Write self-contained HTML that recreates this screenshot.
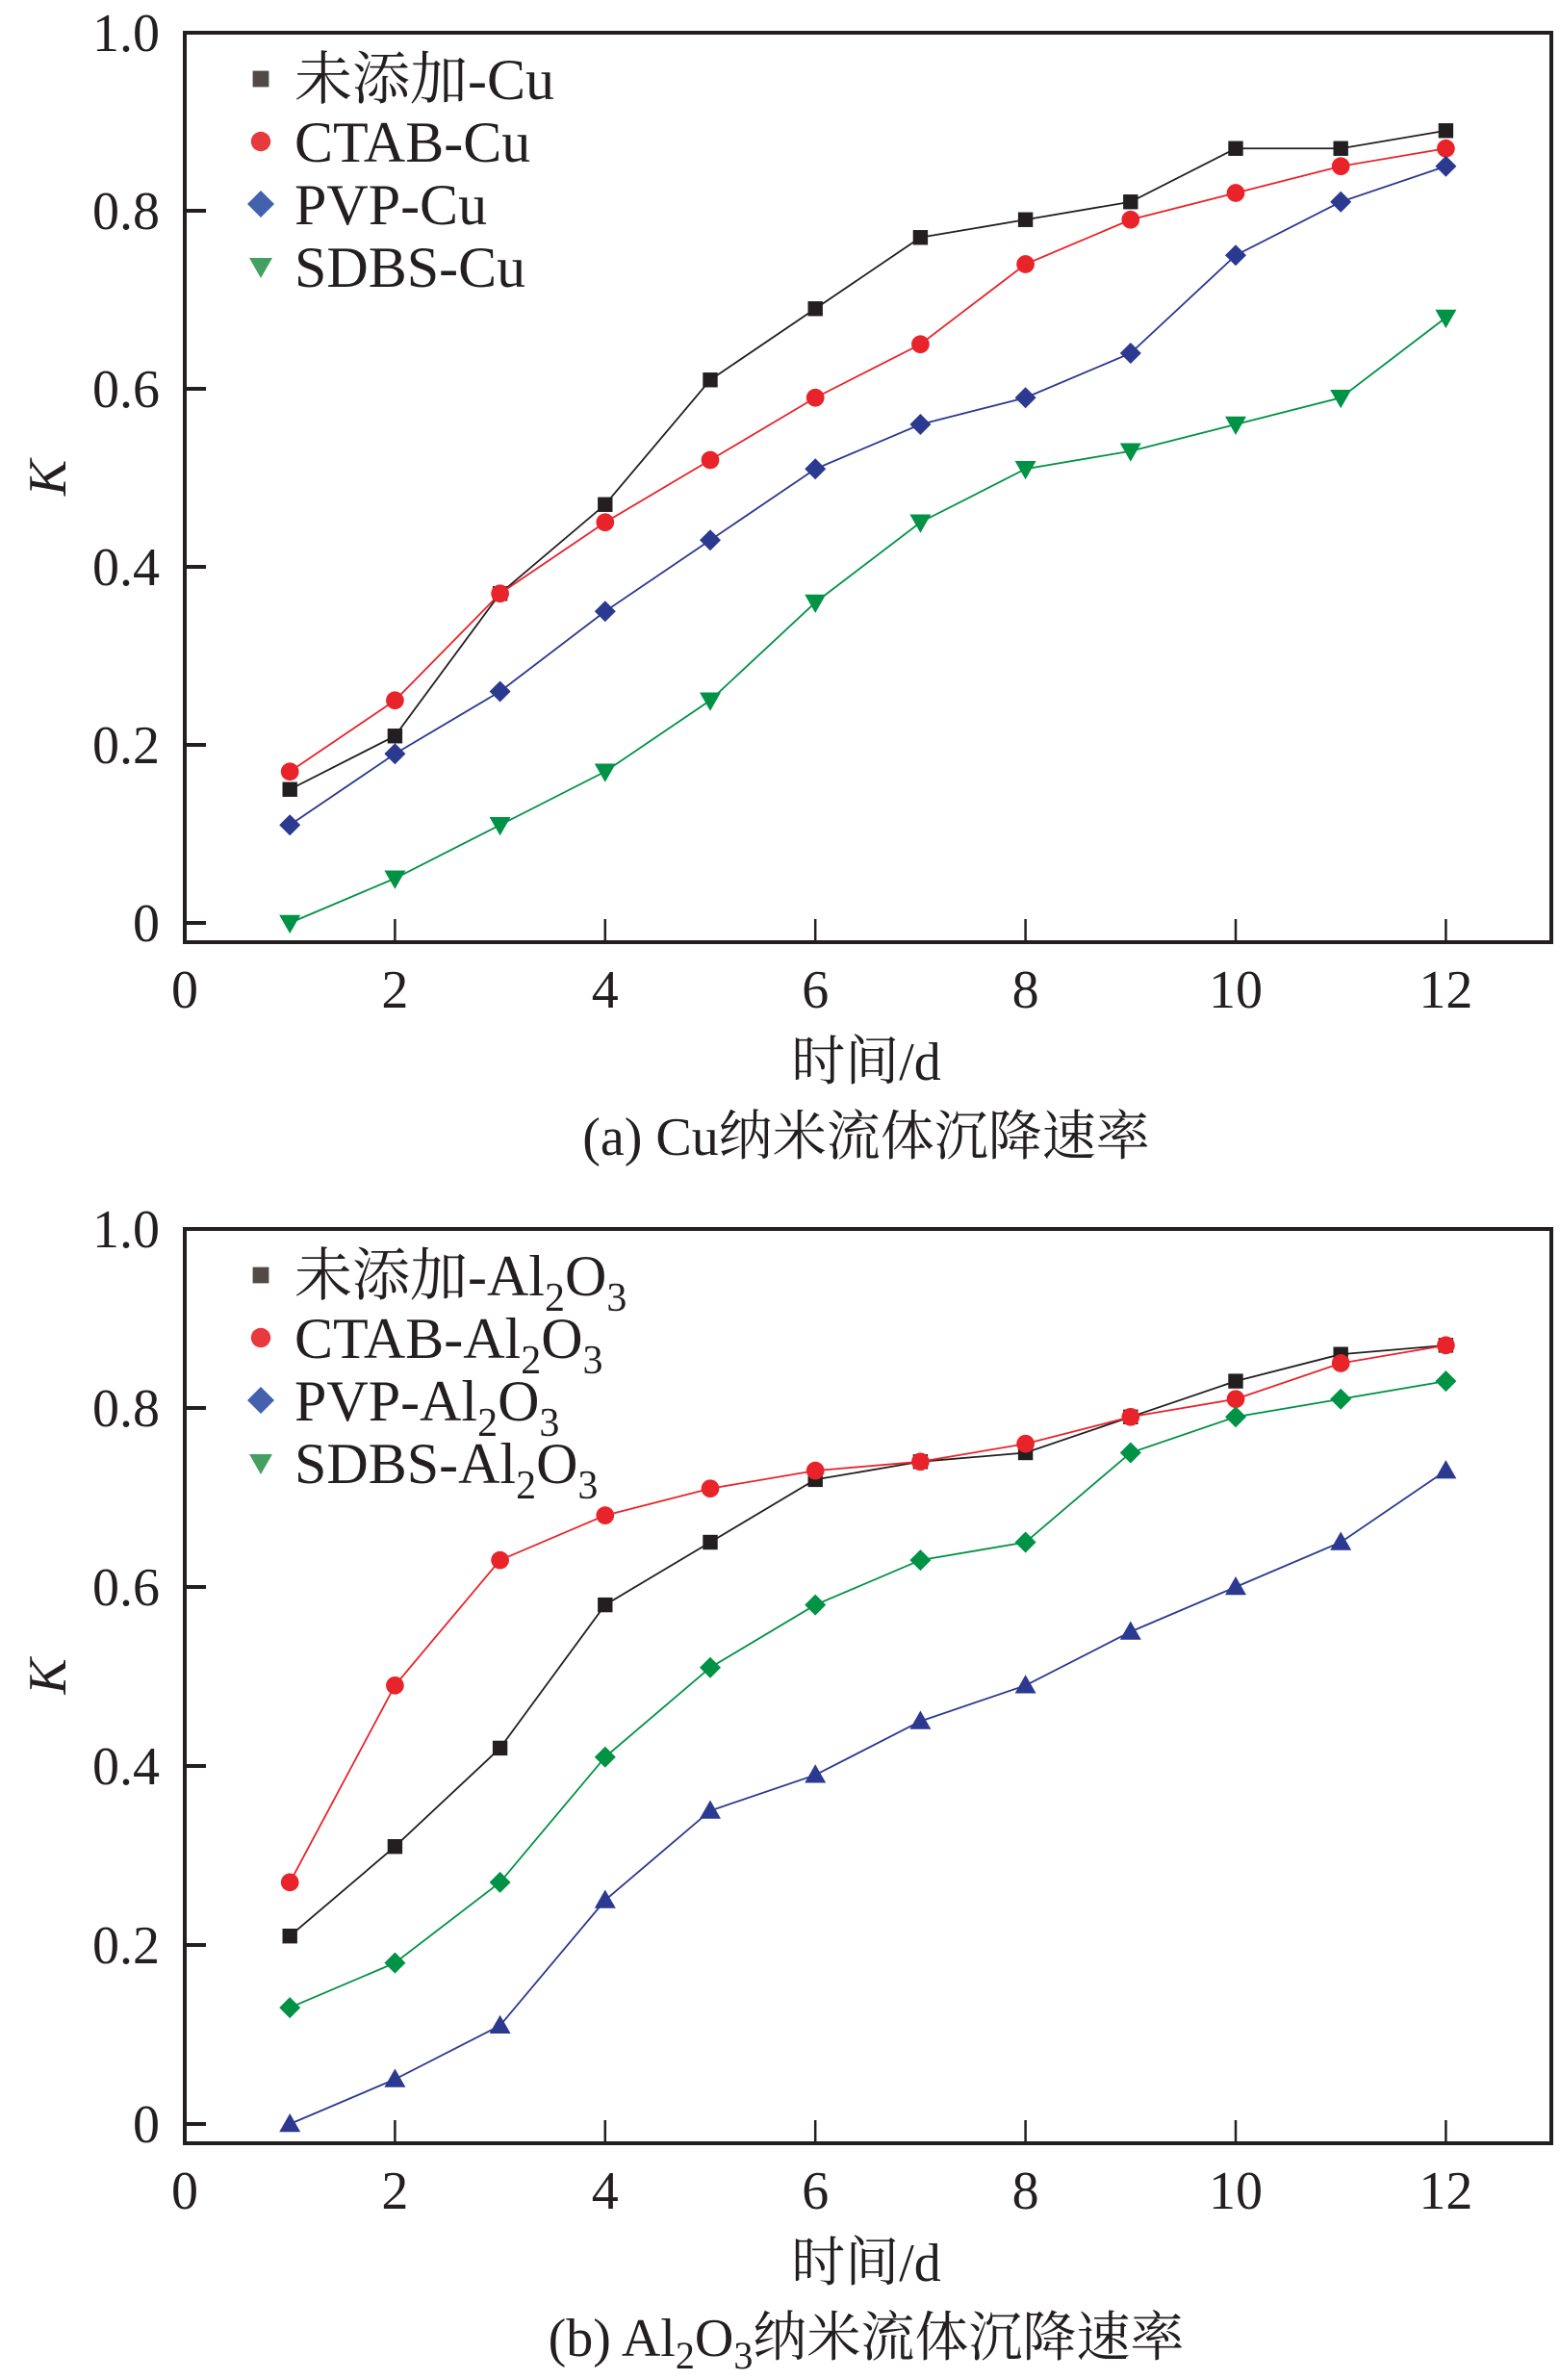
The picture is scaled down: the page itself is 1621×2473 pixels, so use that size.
<!DOCTYPE html>
<html><head><meta charset="utf-8"><style>
html,body{margin:0;padding:0;background:#fff}
svg{display:block}
text{font-family:"Liberation Serif","Noto Serif CJK SC",serif;fill:#231f20}
</style></head><body>
<svg id="fig" width="1621" height="2473" viewBox="0 0 1621 2473" xmlns="http://www.w3.org/2000/svg"></svg>
<script>
const days = [1,2,3,4,5,6,7,8,9,10,11,12];
const xTicks = [0,2,4,6,8,10,12];
const yTicks = [0,0.2,0.4,0.6,0.8,1.0];
const yTickLabels = ["0","0.2","0.4","0.6","0.8","1.0"];
const cuNone = [0.15,0.21,0.37,0.47,0.61,0.69,0.77,0.79,0.81,0.87,0.87,0.89];
const cuCTAB = [0.17,0.25,0.37,0.45,0.52,0.59,0.65,0.74,0.79,0.82,0.85,0.87];
const cuPVP  = [0.11,0.19,0.26,0.35,0.43,0.51,0.56,0.59,0.64,0.75,0.81,0.85];
const cuSDBS = [0.00,0.05,0.11,0.17,0.25,0.36,0.45,0.51,0.53,0.56,0.59,0.68];
const alNone = [0.21,0.31,0.42,0.58,0.65,0.72,0.74,0.75,0.79,0.83,0.86,0.87];
const alCTAB = [0.27,0.49,0.63,0.68,0.71,0.73,0.74,0.76,0.79,0.81,0.85,0.87];
const alPVP  = [0.00,0.05,0.11,0.25,0.35,0.39,0.45,0.49,0.55,0.60,0.65,0.73];
const alSDBS = [0.13,0.18,0.27,0.41,0.51,0.58,0.63,0.65,0.75,0.79,0.81,0.83];

const NS="http://www.w3.org/2000/svg";
const svg=document.getElementById('fig');
function mk(tag,attrs,parent){const e=document.createElementNS(NS,tag);for(const k in attrs)e.setAttribute(k,attrs[k]);(parent||svg).appendChild(e);return e;}

function marker(g,shape,cx,cy,fill,s){
  let e;
  if(shape==='sq') e=mk('rect',{x:cx-s*0.7,y:cy-s*0.7,width:s*1.4,height:s*1.4,fill:fill},g);
  else if(shape==='ci') e=mk('circle',{cx:cx,cy:cy,r:s*0.85,fill:fill},g);
  else if(shape==='di') e=mk('polygon',{points:`${cx},${cy-s} ${cx+s},${cy} ${cx},${cy+s} ${cx-s},${cy}`,fill:fill},g);
  else if(shape==='tu') e=mk('polygon',{points:`${cx},${cy-s} ${cx+s},${cy+s*0.75} ${cx-s},${cy+s*0.75}`,fill:fill},g);
  else e=mk('polygon',{points:`${cx-s},${cy-s*0.75} ${cx+s},${cy-s*0.75} ${cx},${cy+s}`,fill:fill},g);
  return e;
}

function panel(id,top,y0,series,legend,caption,sub){
  const L=192,R=1612,xPer=109.2;
  const yPer=(y0-top);
  const X=v=>L+v*xPer, Y=v=>y0-v*yPer;
  const bottom=y0+20;
  const g=mk('g',{});
  
  
  const frame=mk('rect',{x:L,y:top,width:R-L,height:bottom-top,fill:'none',stroke:'#231f20','stroke-width':4},g);
  
  
  xTicks.forEach(t=>{
    const l=mk('line',{x1:X(t),x2:X(t),y1:bottom,y2:bottom-24,stroke:'#231f20','stroke-width':2.5},g);
    
    
    const tx=mk('text',{x:X(t),y:bottom+68,'font-size':56,'text-anchor':'middle'},g);
    tx.textContent=t;
    
    
  });
  yTicks.forEach((t,i)=>{
    const l=mk('line',{x1:L,x2:L+22,y1:Y(t),y2:Y(t),stroke:'#231f20','stroke-width':4},g);
    
    
    const tx=mk('text',{x:166,y:Y(t)+19,'font-size':56,'text-anchor':'end'},g);
    tx.textContent=yTickLabels[i];
    
    
  });
  const yl=mk('text',{x:0,y:0,'font-size':56,'font-style':'italic','text-anchor':'middle',transform:`translate(68,${(top+y0)/2}) rotate(-90)`},g);
  yl.textContent='K';
  
  
  const xl=mk('text',{x:900,y:bottom+143,'font-size':56,'text-anchor':'middle'},g);
  xl.textContent='时间/d';
  
  
  const cap=mk('text',{x:900,y:bottom+221,'font-size':56,'text-anchor':'middle'},g);
  cap.innerHTML=caption;
  
  
  series.forEach(s=>{
    const pts=days.map((d,i)=>X(d)+','+Y(s.vals[i])).join(' ');
    const pl=mk('polyline',{points:pts,fill:'none',stroke:s.line,'stroke-width':1.8},g);
    
    
    days.forEach((d,i)=>{
      const m=marker(g,s.shape,X(d),Y(s.vals[i]),s.fill,11);
      
      
    });
  });
  legend.forEach((e,i)=>{
    const cy=top+48+i*65;
    const m=marker(g,e.shape,271,cy,e.fill,e.shape==='di'?14:12);
    
    
    const t=mk('text',{x:306,y:cy+21,'font-size':60},g);
    t.innerHTML=e.label+(sub?'-Al<tspan font-size="42" dy="16">2</tspan><tspan dy="-16">O</tspan><tspan font-size="42" dy="16">3</tspan>':'-Cu');
    
    
  });
}
panel('panel-cu',34,959,[
  {name:'cu-none',vals:cuNone,line:'#231f20',fill:'#231f20',shape:'sq'},
  {name:'cu-ctab',vals:cuCTAB,line:'#e8242a',fill:'#e8242a',shape:'ci'},
  {name:'cu-pvp',vals:cuPVP,line:'#2b3990',fill:'#2b3990',shape:'di'},
  {name:'cu-sdbs',vals:cuSDBS,line:'#009245',fill:'#009245',shape:'td'}
],[
  {label:'未添加',fill:'#514a47',shape:'sq'},
  {label:'CTAB',fill:'#e8393e',shape:'ci'},
  {label:'PVP',fill:'#4361ac',shape:'di'},
  {label:'SDBS',fill:'#44a060',shape:'td'}
],'(a) Cu纳米流体沉降速率',false);
panel('panel-al2o3',1277,2207,[
  {name:'al-none',vals:alNone,line:'#231f20',fill:'#231f20',shape:'sq'},
  {name:'al-ctab',vals:alCTAB,line:'#e8242a',fill:'#e8242a',shape:'ci'},
  {name:'al-pvp',vals:alPVP,line:'#2b3990',fill:'#2b3990',shape:'tu'},
  {name:'al-sdbs',vals:alSDBS,line:'#009245',fill:'#009245',shape:'di'}
],[
  {label:'未添加',fill:'#514a47',shape:'sq'},
  {label:'CTAB',fill:'#e8393e',shape:'ci'},
  {label:'PVP',fill:'#4361ac',shape:'di'},
  {label:'SDBS',fill:'#44a060',shape:'td'}
],'(b) Al<tspan font-size="40" dy="13">2</tspan><tspan dy="-13">O</tspan><tspan font-size="40" dy="13">3</tspan><tspan dy="-13">纳米流体沉降速率</tspan>',true);
</script>
</body></html>
